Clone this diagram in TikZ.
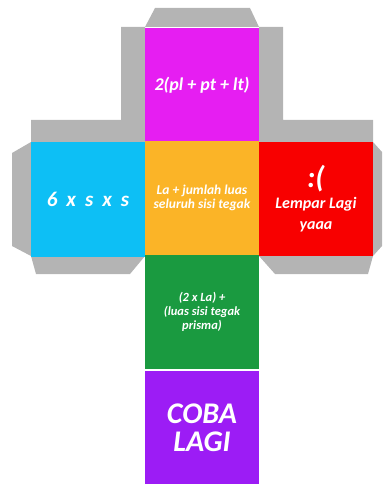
\documentclass[tikz,border=0pt]{standalone}
\usepackage{fontspec}
\setmainfont{Carlito}
\usetikzlibrary{positioning}
\definecolor{FaceMagenta}{HTML}{E61EF2}
\definecolor{FaceCyan}{HTML}{0DBFF5}
\definecolor{FaceOrange}{HTML}{FBB427}
\definecolor{FaceRed}{HTML}{F80000}
\definecolor{FaceGreen}{HTML}{1A9A40}
\definecolor{FacePurple}{HTML}{9C1CF5}
\definecolor{FlapGray}{HTML}{B4B4B4}
\tikzset{
  face/.style={minimum width=114pt,minimum height=114.5pt,inner sep=0pt,
    text=white,align=center},
  flap/.style={fill=FlapGray},
}

\begin{document}
\begin{tikzpicture}[x=1pt,y=-1pt]
  \useasboundingbox (0,0) rectangle (384,484);
  % glue flaps
  \fill[flap] (145,27) -- (155,8) -- (250,8) -- (259,27) -- cycle;
  \fill[flap] (121,27) -- (145,27) -- (145,142) -- (31,142) -- (31,120) -- (121,120) -- cycle;
  \fill[flap] (259,27) -- (283,27) -- (283,120) -- (373,120) -- (373,142) -- (259,142) -- cycle;
  \fill[flap] (31,142) -- (12,153) -- (12,246) -- (31,256) -- cycle;
  \fill[flap] (373,142) -- (382,152) -- (382,246) -- (373,256) -- cycle;
  \fill[flap] (31,256) -- (145,256) -- (130,274) -- (36,274) -- cycle;
  \fill[flap] (259,256) -- (373,256) -- (368,274) -- (275,274) -- cycle;
  % faces
  \node[face,fill=FaceMagenta,font=\fontsize{18}{20}\selectfont\bfseries\itshape] (f1) at (202,85) {2(pl + pt + lt)};
  \node[face,fill=FaceCyan,font=\fontsize{21}{23}\selectfont\bfseries\itshape] (f2) at (88,199.5) {\spaceskip=9pt 6 x s x s};
  \node[face,fill=FaceOrange,font=\fontsize{13.5}{14}\selectfont\bfseries\itshape] (f3) at (202,198) {La + jumlah luas\\seluruh sisi tegak};
  \node[face,fill=FaceRed,font=\fontsize{16}{21}\selectfont\bfseries\itshape] (f4) at (316,199) {{\fontsize{30}{30}\selectfont :(}\\Lempar Lagi\\yaaa};
  \node[face,fill=FaceGreen,font=\fontsize{12.5}{14}\selectfont\bfseries\itshape] (f5) at (202,312) {(2 x La) +\\(luas sisi tegak\\prisma)};
  \node[face,fill=FacePurple,font=\fontsize{30}{28}\selectfont\bfseries\itshape] (f6) at (202,427.75) {COBA\\LAGI};
\end{tikzpicture}
\end{document}
